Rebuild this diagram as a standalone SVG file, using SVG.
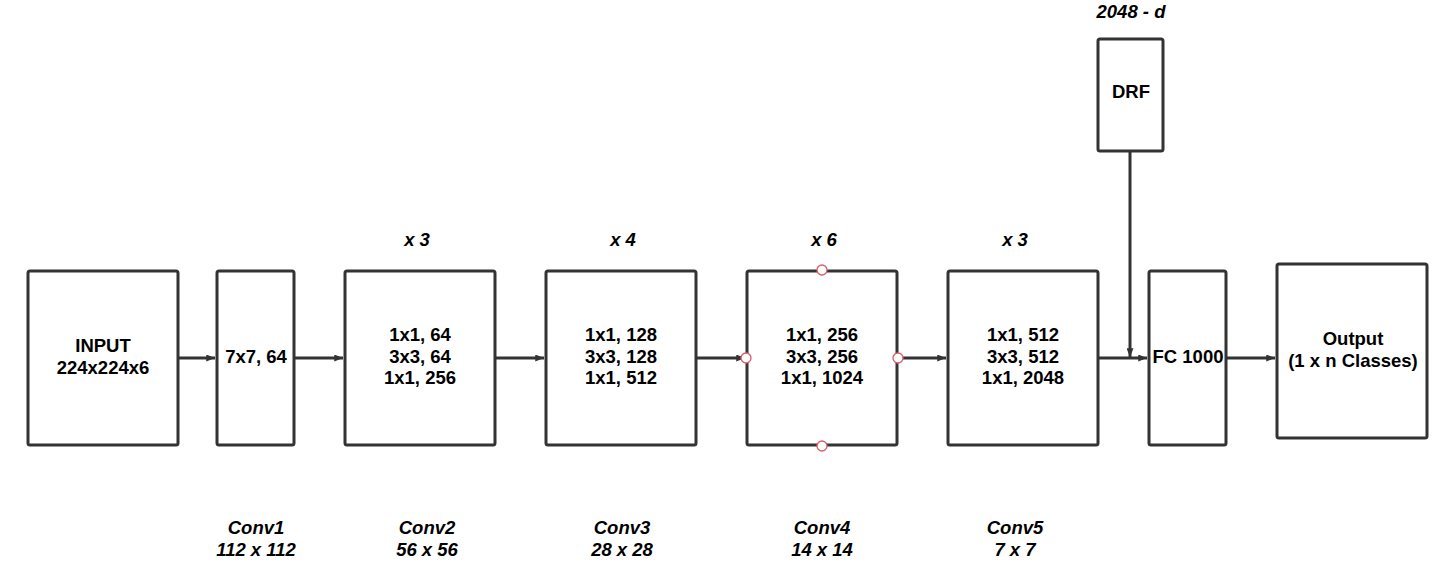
<svg xmlns="http://www.w3.org/2000/svg" width="1456" height="576" viewBox="0 0 1456 576">
<defs>
<marker id="ah" viewBox="0 0 10 8" refX="10" refY="4" markerWidth="10" markerHeight="7" markerUnits="userSpaceOnUse" orient="auto">
<path d="M0,0 L10,4 L0,8 Z" fill="#333"/>
</marker>
</defs>
<style>
.box{fill:#fff;stroke:#333;stroke-width:3}
.t{font-family:"Liberation Sans",Arial,sans-serif;font-size:18.5px;font-weight:bold;fill:#000;text-anchor:middle}
.l{font-family:"Liberation Sans",Arial,sans-serif;font-size:18.5px;font-weight:bold;font-style:italic;fill:#000;text-anchor:middle}
.c{fill:none;stroke:#333;stroke-width:3}
.p{fill:#fff;stroke:#e05a6a;stroke-width:1.3}
</style>
<rect width="1456" height="576" fill="#fff"/>
<g id="connectors">
<line class="c" x1="179" y1="358" x2="215" y2="358" marker-end="url(#ah)"/>
<line class="c" x1="295" y1="358" x2="343" y2="358" marker-end="url(#ah)"/>
<line class="c" x1="496" y1="358" x2="544" y2="358" marker-end="url(#ah)"/>
<line class="c" x1="697" y1="358" x2="745" y2="358" marker-end="url(#ah)"/>
<line class="c" x1="898" y1="358" x2="946" y2="358" marker-end="url(#ah)"/>
<line class="c" x1="1099" y1="358" x2="1147" y2="358" marker-end="url(#ah)"/>
<line class="c" x1="1227" y1="358" x2="1275" y2="358" marker-end="url(#ah)"/>
<line class="c" x1="1130" y1="152" x2="1130" y2="357" marker-end="url(#ah)"/>
</g>
<g id="input"><rect class="box" x="28" y="271" width="150" height="174" rx="2"/>
<text class="t" x="103" y="352">INPUT</text><text class="t" x="103" y="374">224x224x6</text></g>
<g id="conv1"><rect class="box" x="217" y="271" width="77" height="174" rx="2"/>
<text class="t" x="256" y="363">7x7, 64</text></g>
<g id="conv2"><rect class="box" x="345" y="271" width="150" height="174" rx="2"/>
<text class="t" x="420" y="341">1x1, 64</text><text class="t" x="420" y="363">3x3, 64</text><text class="t" x="420" y="384">1x1, 256</text></g>
<g id="conv3"><rect class="box" x="546" y="271" width="150" height="174" rx="2"/>
<text class="t" x="621" y="341">1x1, 128</text><text class="t" x="621" y="363">3x3, 128</text><text class="t" x="621" y="384">1x1, 512</text></g>
<g id="conv4"><rect class="box" x="747" y="271" width="150" height="174" rx="2"/>
<text class="t" x="822" y="341">1x1, 256</text><text class="t" x="822" y="363">3x3, 256</text><text class="t" x="822" y="384">1x1, 1024</text>
<circle class="p" cx="822" cy="270" r="5"/><circle class="p" cx="822" cy="446" r="5"/><circle class="p" cx="746" cy="358" r="5"/><circle class="p" cx="898" cy="358" r="5"/></g>
<g id="conv5"><rect class="box" x="948" y="271" width="150" height="174" rx="2"/>
<text class="t" x="1023" y="341">1x1, 512</text><text class="t" x="1023" y="363">3x3, 512</text><text class="t" x="1023" y="384">1x1, 2048</text></g>
<g id="fc"><rect class="box" x="1149" y="271" width="77" height="174" rx="2"/>
<text class="t" x="1188" y="363">FC 1000</text></g>
<g id="output"><rect class="box" x="1277" y="264" width="150" height="174" rx="2"/>
<text class="t" x="1353" y="345">Output</text><text class="t" x="1353" y="367">(1 x n Classes)</text></g>
<g id="drf"><rect class="box" x="1098" y="39" width="65" height="112" rx="2"/>
<text class="t" x="1131" y="98">DRF</text></g>
<g id="labels">
<text class="l" x="1131" y="18">2048 - d</text>
<text class="l" x="417" y="246">x 3</text>
<text class="l" x="623" y="246">x 4</text>
<text class="l" x="824" y="246">x 6</text>
<text class="l" x="1015" y="246">x 3</text>
<text class="l" x="256" y="534">Conv1</text><text class="l" x="256" y="556">112 x 112</text>
<text class="l" x="427" y="534">Conv2</text><text class="l" x="427" y="556">56 x 56</text>
<text class="l" x="622" y="534">Conv3</text><text class="l" x="622" y="556">28 x 28</text>
<text class="l" x="822" y="534">Conv4</text><text class="l" x="822" y="556">14 x 14</text>
<text class="l" x="1015" y="534">Conv5</text><text class="l" x="1015" y="556">7 x 7</text>
</g>
</svg>
